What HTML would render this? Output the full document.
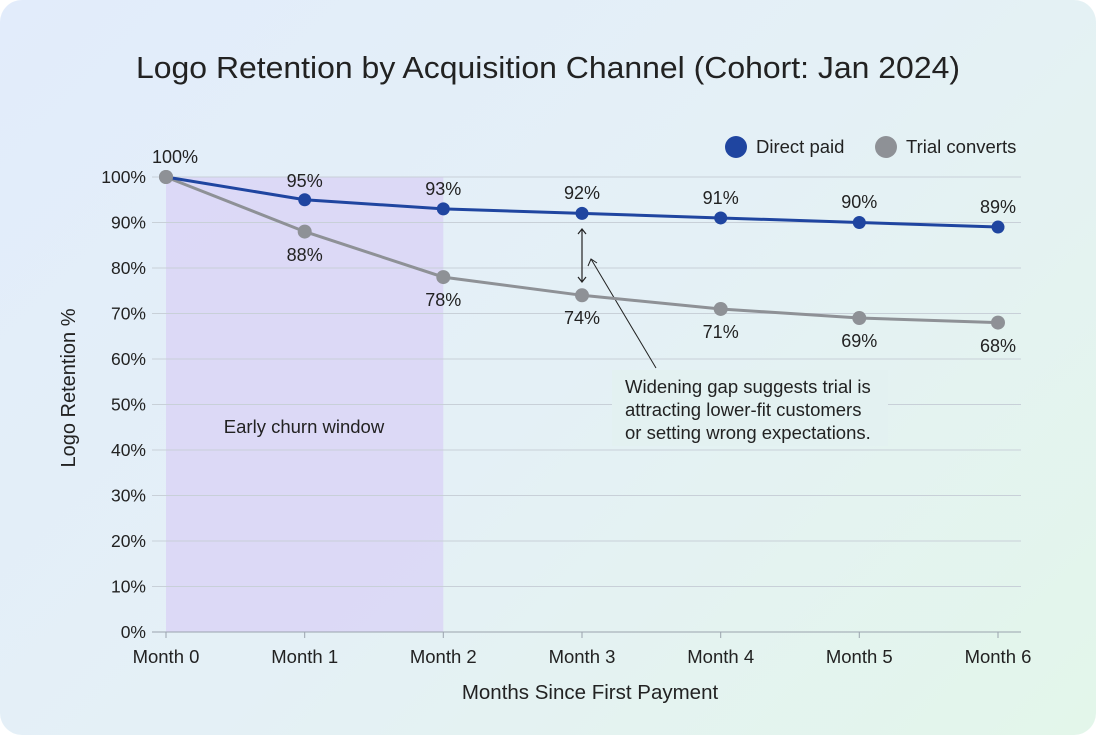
<!DOCTYPE html>
<html><head><meta charset="utf-8"><style>
html,body{margin:0;padding:0;background:#fff}
#c{width:1096px;height:735px;border-radius:22px;overflow:hidden;background:linear-gradient(135deg,#e2ecfb 0%,#e4f0f6 50%,#e3f6ea 100%);position:relative}
svg text{font-family:"Liberation Sans",sans-serif;fill:#222}
</style></head><body><div id="c">
<svg width="1096" height="735" viewBox="0 0 1096 735" xmlns="http://www.w3.org/2000/svg">
<text x="548" y="78" font-size="31" text-anchor="middle" textLength="824" lengthAdjust="spacingAndGlyphs">Logo Retention by Acquisition Channel (Cohort: Jan 2024)</text>
<rect x="166" y="177" width="277.3" height="455" fill="#d9d2f5" opacity="0.75"/>
<g stroke="#c8d0d8" stroke-width="1">
<line x1="152" x2="1021" y1="177" y2="177"/><line x1="152" x2="1021" y1="222.5" y2="222.5"/><line x1="152" x2="1021" y1="268" y2="268"/><line x1="152" x2="1021" y1="313.5" y2="313.5"/><line x1="152" x2="1021" y1="359" y2="359"/><line x1="152" x2="1021" y1="404.5" y2="404.5"/><line x1="152" x2="1021" y1="450" y2="450"/><line x1="152" x2="1021" y1="495.5" y2="495.5"/><line x1="152" x2="1021" y1="541" y2="541"/><line x1="152" x2="1021" y1="586.5" y2="586.5"/>
</g>
<line x1="152" x2="1021" y1="632" y2="632" stroke="#9aa3ad"/>
<g stroke="#9aa3ad"><line x1="166" x2="166" y1="632" y2="638"/><line x1="304.7" x2="304.7" y1="632" y2="638"/><line x1="443.3" x2="443.3" y1="632" y2="638"/><line x1="582" x2="582" y1="632" y2="638"/><line x1="720.7" x2="720.7" y1="632" y2="638"/><line x1="859.3" x2="859.3" y1="632" y2="638"/><line x1="998" x2="998" y1="632" y2="638"/></g>
<g font-size="17.5" text-anchor="end">
<text x="146" y="183">100%</text><text x="146" y="228.5">90%</text><text x="146" y="274">80%</text><text x="146" y="319.5">70%</text><text x="146" y="365">60%</text><text x="146" y="410.5">50%</text><text x="146" y="456">40%</text><text x="146" y="501.5">30%</text><text x="146" y="547">20%</text><text x="146" y="592.5">10%</text><text x="146" y="638">0%</text>
</g>
<g font-size="18.5" text-anchor="middle">
<text x="166" y="663">Month 0</text><text x="304.7" y="663">Month 1</text><text x="443.3" y="663">Month 2</text><text x="582" y="663">Month 3</text><text x="720.7" y="663">Month 4</text><text x="859.3" y="663">Month 5</text><text x="998" y="663">Month 6</text>
</g>
<text x="590" y="699" font-size="20.5" text-anchor="middle">Months Since First Payment</text>
<text transform="translate(75,388) rotate(-90)" font-size="20" text-anchor="middle">Logo Retention %</text>
<text x="304" y="433" font-size="18.5" text-anchor="middle">Early churn window</text>
<rect x="612" y="370" width="276" height="76" fill="#e3f1f1"/>
<g font-size="18.5"><text x="625" y="393">Widening gap suggests trial is</text><text x="625" y="416">attracting lower-fit customers</text><text x="625" y="439">or setting wrong expectations.</text></g>
<line x1="656" y1="368" x2="591" y2="259" stroke="#222" stroke-width="1"/>
<path d="M588 266 L591 259 L597 263" fill="none" stroke="#222" stroke-width="1"/>
<line x1="582" y1="230" x2="582" y2="281" stroke="#222" stroke-width="1.2"/>
<path d="M578 234 L582 229 L586 234 M578 277 L582 282 L586 277" fill="none" stroke="#222" stroke-width="1.2"/>
<polyline fill="none" stroke="#8e9196" stroke-width="3" points="166,177 304.7,231.6 443.3,277.1 582,295.3 720.7,308.95 859.3,318.05 998,322.6"/>
<g fill="#8e9196"><circle cx="166" cy="177" r="7"/><circle cx="304.7" cy="231.6" r="7"/><circle cx="443.3" cy="277.1" r="7"/><circle cx="582" cy="295.3" r="7"/><circle cx="720.7" cy="308.95" r="7"/><circle cx="859.3" cy="318.05" r="7"/><circle cx="998" cy="322.6" r="7"/></g>
<polyline fill="none" stroke="#1f45a0" stroke-width="3" points="166,177 304.7,199.75 443.3,208.85 582,213.4 720.7,217.95 859.3,222.5 998,227.05"/>
<g fill="#1f45a0"><circle cx="304.7" cy="199.75" r="6.5"/><circle cx="443.3" cy="208.85" r="6.5"/><circle cx="582" cy="213.4" r="6.5"/><circle cx="720.7" cy="217.95" r="6.5"/><circle cx="859.3" cy="222.5" r="6.5"/><circle cx="998" cy="227.05" r="6.5"/></g>
<circle cx="166" cy="177" r="7" fill="#8e9196"/>
<g font-size="18" text-anchor="middle">
<text x="175" y="163">100%</text>
<text x="304.7" y="187">95%</text><text x="443.3" y="195">93%</text><text x="582" y="199">92%</text><text x="720.7" y="204">91%</text><text x="859.3" y="208">90%</text><text x="998" y="213">89%</text>
<text x="304.7" y="261">88%</text><text x="443.3" y="306">78%</text><text x="582" y="324">74%</text><text x="720.7" y="338">71%</text><text x="859.3" y="347">69%</text><text x="998" y="352">68%</text>
</g>
<circle cx="736" cy="147" r="11" fill="#1f45a0"/>
<text x="756" y="153" font-size="18.5">Direct paid</text>
<circle cx="886" cy="147" r="11" fill="#8e9196"/>
<text x="906" y="153" font-size="18.5">Trial converts</text>
</svg>
</div></body></html>
